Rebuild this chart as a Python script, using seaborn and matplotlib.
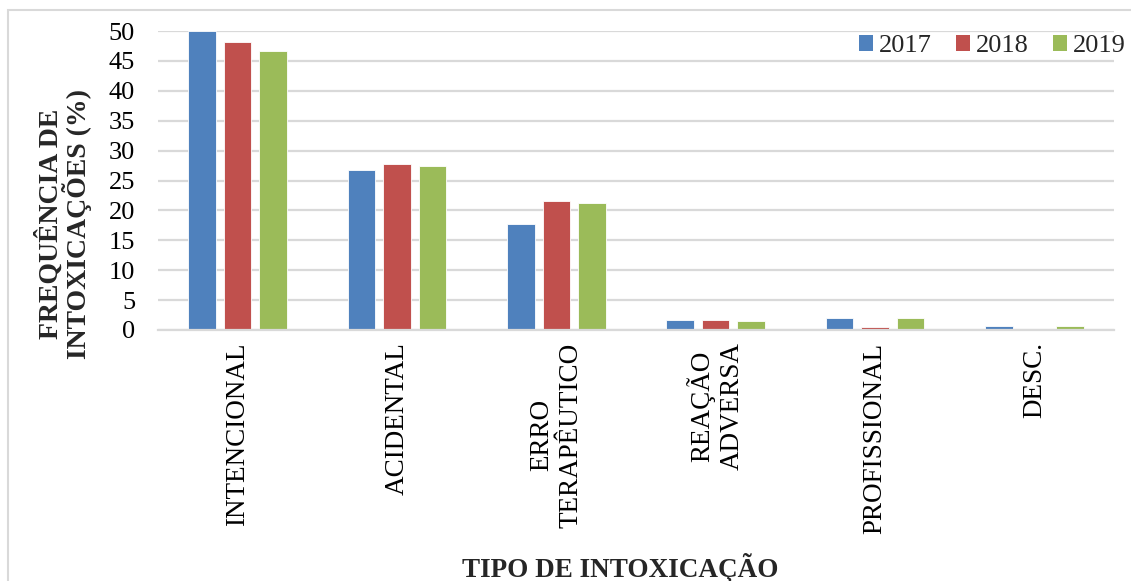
import matplotlib
matplotlib.use("Agg")
import matplotlib.pyplot as plt
from matplotlib.patches import Rectangle
import seaborn as sns
import pandas as pd

# data (%)
tipos = ["INTENCIONAL", "ACIDENTAL", "ERRO\nTERAPÊUTICO", "REAÇÃO\nADVERSA",
         "PROFISSIONAL", "DESC."]
anos = ["2017", "2018", "2019"]
v2017 = [50.0, 26.8, 17.7, 1.6, 2.0, 0.6]
v2018 = [48.1, 27.7, 21.5, 1.6, 0.5, 0.15]
v2019 = [46.6, 27.5, 21.3, 1.5, 2.0, 0.6]
cores = ["#4F81BD", "#C0504D", "#9BBB59"]

df = pd.DataFrame({
    "tipo": tipos * 3,
    "ano": [a for a in anos for _ in tipos],
    "freq": v2017 + v2018 + v2019,
})

sns.set_theme(style="white")
plt.rcParams["font.family"] = ["Liberation Serif", "DejaVu Serif"]

W, H = 1131, 581
fig = plt.figure(figsize=(W / 100, H / 100), dpi=100)
ax = fig.add_axes([158 / W, 1 - 330 / H, (1114 - 158) / W, (330 - 31) / H])

# light frame around the figure like the exported chart
fig.patches.append(Rectangle((8 / W, -0.05), 1.2, 1 - 10 / H + 0.05,
                             transform=fig.transFigure, fill=False,
                             edgecolor="#D9D9D9", linewidth=1.5))

sns.barplot(data=df, x="tipo", y="freq", hue="ano", palette=cores,
            width=0.667, gap=0.22, ax=ax, errorbar=None, saturation=1,
            edgecolor="white", linewidth=0.6)

ax.set_ylim(0, 50)
ax.set_xlim(-0.5, 5.5)
ax.set_yticks(range(0, 51, 5))
ax.yaxis.grid(True, color="#D9D9D9", linewidth=1.6)
ax.set_axisbelow(True)
for s in ["top", "right", "left"]:
    ax.spines[s].set_visible(False)
ax.spines["bottom"].set_color("#D9D9D9")
ax.spines["bottom"].set_linewidth(1.6)
ax.tick_params(axis="both", length=0, colors="black")
ax.tick_params(axis="y", pad=16.5, labelsize=19)
ax.tick_params(axis="x", pad=9, labelsize=19.5)
plt.setp(ax.get_xticklabels(), rotation=90, ha="center", va="top",
         multialignment="center")
ax.set_xlabel("")
ax.set_ylabel("")

fig.text(64 / W, 1 - 224 / H, "FREQUÊNCIA DE\nINTOXICAÇÕES (%)", rotation=90,
         ha="center", va="center", multialignment="center",
         fontsize=20, fontweight="bold", linespacing=0.92)
fig.text(620 / W, 1 - 568 / H, "TIPO DE INTOXICAÇÃO", ha="center",
         va="center", fontsize=19.5, fontweight="bold")

leg = ax.legend(loc="center right", bbox_to_anchor=(1126 / W, 1 - 46 / H),
                bbox_transform=fig.transFigure, ncol=3, frameon=False,
                fontsize=19, handlelength=0.55, handleheight=0.55,
                handletextpad=0.22, columnspacing=0.9, borderpad=0,
                borderaxespad=0)
for h in leg.legend_handles:
    h.set_edgecolor("none")

fig.savefig("out.png", dpi=100, facecolor="white")
